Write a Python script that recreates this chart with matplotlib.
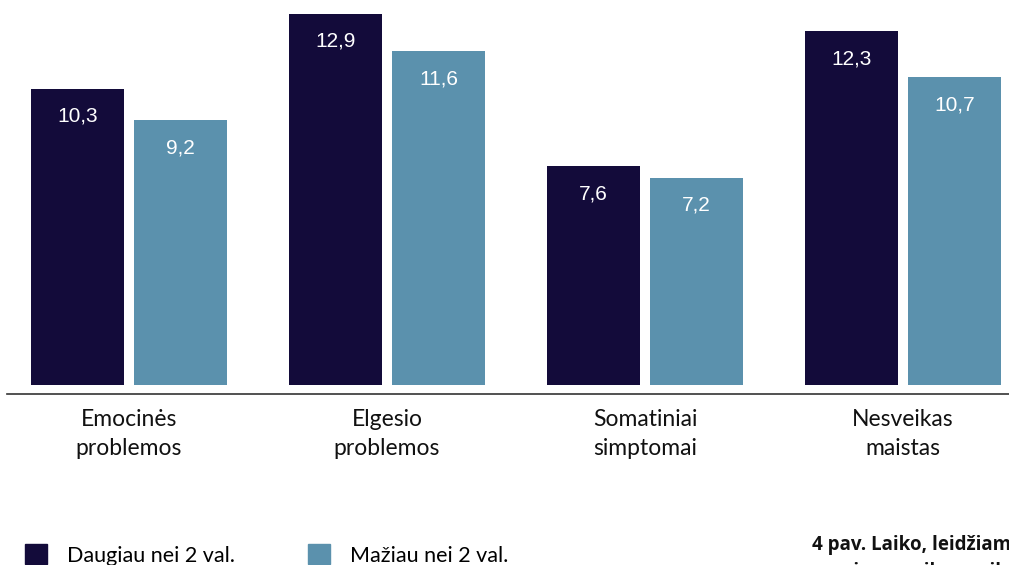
import numpy as np
import matplotlib
matplotlib.use("Agg")
import matplotlib.pyplot as plt
from matplotlib.patches import Patch
from matplotlib.lines import Line2D
import matplotlib.transforms as mtrans

# ------- DATA ----------
categories = ["Emocinės\nproblemos", "Elgesio\nproblemos",
              "Somatiniai\nsimptomai", "Nesveikas\nmaistas"]
more_2h = [10.3, 12.9, 7.6, 12.3]
less_2h = [9.2, 11.6, 7.2, 10.7]
series_names = ["Daugiau nei 2 val.", "Mažiau nei 2 val."]
caption = "4 pav. Laiko, leidžiamo prie ekranų,\nsąsaja su vaikų sveikata"

DARK  = "#130b3a"
LIGHT = "#5b91ad"
LABEL_FONT = "Lato"
VALUE_FONT = "Liberation Sans"

W, H = 1009, 565
fig = plt.figure(figsize=(W / 100, H / 100), dpi=100)

# ------- AXES: zero line at pixel row 385 ----------
ax = fig.add_axes([0, (H - 385) / H, 1, 385 / H])
ax.set_ylim(0, 385 / 28.76)
ax.set_xlim(-0.5, W / 258 - 0.5)
ax.axis("off")

x = np.arange(len(categories))
bw = 93 / 258
off = 51.5 / 258

ax.bar(x - off, more_2h, width=bw, color=DARK, edgecolor="none")
ax.bar(x + off, less_2h, width=bw, color=LIGHT, edgecolor="none")

for xs, vals in [(x - off, more_2h), (x + off, less_2h)]:
    for xi, v in zip(xs, vals):
        ax.text(xi, v - 0.95, f"{v:.1f}".replace(".", ","), ha="center",
                va="center", color="white", fontsize=15, family=VALUE_FONT)

# category labels under the axis
trans = mtrans.blended_transform_factory(ax.transData, ax.transAxes)
for xi, cat in zip(x, categories):
    ax.text(xi, -(434 - 385) / 385, cat, transform=trans, ha="center",
            va="center", fontsize=16.5, family=LABEL_FONT, color="#111111",
            linespacing=1.5)

# baseline
fig.add_artist(Line2D([7 / W, 1], [(H - 393.7) / H] * 2,
                      color="#333333", lw=1.2))

# ------- LEGEND ----------
handles = [Patch(color=DARK, label=series_names[0]),
           Patch(color=LIGHT, label=series_names[1])]
fig.legend(handles=handles, loc="center left",
           bbox_to_anchor=(25 / W, (H - 555) / H), ncol=2, frameon=False,
           prop={"family": LABEL_FONT, "size": 15.5},
           handlelength=1.0, handleheight=1.0, handletextpad=0.95,
           columnspacing=3.4, borderpad=0, borderaxespad=0)

# caption (runs off the right edge, second line mostly below the canvas)
fig.text(812 / W, (H - 535) / H, caption, ha="left", va="top",
         fontsize=13.5, fontweight="bold", family="Open Sans",
         color="#111111", linespacing=1.5)

fig.savefig("out.png", dpi=100)
